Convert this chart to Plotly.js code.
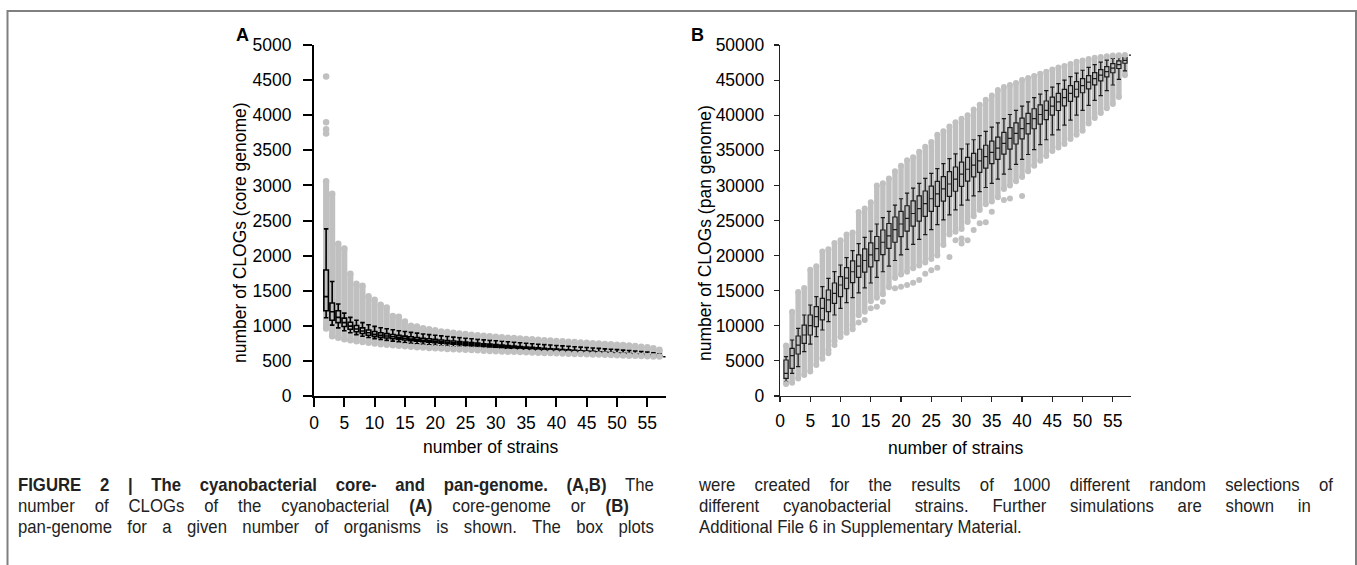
<!DOCTYPE html>
<html>
<head>
<meta charset="utf-8">
<script src="https://cdn.plot.ly/plotly-3.0.1.min.js"></script>
<style>
html,body{margin:0;padding:0;background:#fff;}
#chart{width:1357px;height:565px;}
</style>
</head>
<body>
<div id="chart"></div>
<script>
// ---------- Panel A: core genome (number of strains 2..58) ----------
const strainsA = [2,3,4,5,6,7,8,9,10,11,12,13,14,15,16,17,18,19,20,21,22,23,24,25,26,27,28,29,30,31,32,33,34,35,36,37,38,39,40,41,42,43,44,45,46,47,48,49,50,51,52,53,54,55,56,57,58];
const coreMedian = [1415,1200,1120,1045,995,955,925,900,880,865,855,843,832,822,813,804,795,787,780,772,765,758,751,744,737,730,723,717,711,705,698,692,686,680,674,668,662,657,651,646,641,636,631,626,621,616,611,606,601,597,593,589,585,580,573,567,560];
const coreQ1 = [1215,1080,1045,990,950,915,890,866,849,835,827,816,806,797,789,781,772,765,758,751,744,738,731,725,718,712,705,700,694,688,682,676,671,665,659,654,648,644,638,633,629,624,619,614,610,605,601,596,591,588,585,581,578,574,568,563,560];
const coreQ3 = [1795,1325,1215,1110,1050,1005,970,941,919,901,889,876,864,853,843,833,823,815,806,798,790,783,775,768,760,753,745,739,732,725,718,711,705,699,692,686,679,674,668,662,657,651,645,640,635,629,624,618,613,608,604,598,593,588,579,572,560];
const coreWhiskLow = [1115,1010,970,930,900,875,852,834,818,804,792,781,771,761,752,744,736,728,721,714,707,701,695,689,683,677,671,666,661,656,650,645,640,635,630,625,620,616,612,608,604,600,596,592,588,585,582,579,576,573,570,568,566,564,562,561,560];
const coreWhiskHigh = [2380,1630,1310,1180,1120,1080,1045,1015,992,973,958,944,930,918,906,895,884,874,865,856,847,839,831,823,815,807,800,793,786,779,772,765,758,751,744,738,732,726,720,714,708,702,696,690,684,678,672,666,660,654,648,641,634,626,616,600,560];
// range of the 1000 simulated values (grey dots) per strain count
const coreDotsLow = [960,850,830,810,795,780,768,757,747,738,730,722,715,708,702,696,690,685,680,675,670,666,662,658,654,650,646,642,639,635,632,629,626,623,620,617,614,611,608,605,602,600,597,595,592,590,587,585,582,578,575,572,569,566,563,561,560];
const coreDotsHigh = [3060,2880,2170,2100,1740,1600,1570,1420,1370,1300,1260,1140,1130,1060,1000,990,965,950,935,920,910,900,890,882,873,865,858,851,844,838,831,825,819,813,807,801,795,790,784,779,773,768,763,758,752,747,742,736,731,725,718,712,703,693,680,660,560];
// isolated grey dots
const coreOutX = [2,2,2,2];
const coreOutY = [3740,3800,3900,4550];

// ---------- Panel B: pan genome (number of strains 1..58) ----------
const strainsB = [1,2,3,4,5,6,7,8,9,10,11,12,13,14,15,16,17,18,19,20,21,22,23,24,25,26,27,28,29,30,31,32,33,34,35,36,37,38,39,40,41,42,43,44,45,46,47,48,49,50,51,52,53,54,55,56,57,58];
const panMedian = [3230,5740,7260,8690,10020,11300,12490,13680,14630,15810,16800,17700,18500,19300,20100,21000,21900,22800,23700,24500,25300,26000,26700,27400,28100,28800,29500,30200,30900,31600,32300,32900,33500,34100,34700,35300,36000,36700,37400,38100,38800,39500,40100,40700,41300,41900,42500,43100,43700,44200,44700,45200,45700,46200,46700,47200,47800,48570];
const panQ1 = [2520,3940,5980,7500,8690,9870,10830,12010,13200,14150,15300,16150,16900,17650,18400,19270,20150,21020,21900,22700,23500,24200,24900,25600,26300,27020,27750,28450,29170,29870,30600,31220,31850,32470,33100,33720,34450,35170,35900,36620,37350,38070,38720,39370,40020,40670,41320,41970,42620,43200,43750,44320,44900,45470,46050,46650,47400,48570];
const panQ3 = [5130,6780,8550,10100,11540,12720,13910,15100,16100,17000,18300,19250,20100,20950,21800,22720,23650,24570,25500,26300,27100,27800,28500,29200,29900,30570,31250,31950,32620,33320,34000,34570,35150,35720,36300,36870,37550,38220,38900,39570,40250,40920,41470,42020,42570,43120,43670,44220,44770,45200,45650,46070,46500,46920,47350,47750,48200,48570];
const panWhiskLow = [2040,3230,4180,6310,7400,8450,9400,10590,11540,12490,13300,14000,14700,15400,16100,16900,17700,18500,19300,20100,20900,21600,22300,23000,23700,24400,25100,25800,26500,27200,27900,28500,29100,29700,30300,30900,31600,32300,33000,33700,34400,35100,35800,36500,37200,37900,38600,39300,40000,40700,41400,42100,42800,43500,44300,45100,46300,48570];
const panWhiskHigh = [5600,7980,9640,11540,12960,14150,15570,16760,17720,18660,19700,20700,21700,22600,23500,24500,25400,26300,27200,28100,28900,29600,30300,31000,31700,32400,33100,33800,34500,35200,35900,36500,37100,37700,38300,38900,39500,40100,40700,41300,41900,42500,43000,43500,44000,44500,45000,45500,46000,46400,46800,47200,47550,47850,48100,48300,48500,48570];
const panDotsLow = [1700,1900,2500,3000,3500,4400,5300,6500,7800,8400,9000,9500,11500,12000,13500,14000,14500,15500,16800,17300,17700,18200,18600,19000,19500,20000,21500,23000,23400,23800,24800,25600,26500,27300,27700,28300,29500,30000,30600,31200,32000,32800,33500,34200,34900,35400,35900,36600,37200,37800,38800,39600,40300,41000,41600,42600,45700,48570];
const panDotsHigh = [7200,12000,14800,15400,18000,18500,20600,20900,21800,22200,23000,23300,26200,26700,27600,30000,30300,31000,32000,32800,33600,34000,34800,35500,36200,37200,37700,38400,39000,39500,40000,40800,41500,42200,42800,43600,44000,44300,44600,45000,45300,45600,45900,46200,46500,46800,47000,47300,47600,47800,48000,48200,48300,48400,48500,48550,48570,48570];
const panOutX = [8,9,12,13,14,15,16,17,19,20,21,22,23,24,25,26,28,29,30,31,30,32,33,34,35,37,38,40];
const panOutY = [6080,7260,10150,10480,10810,12500,12730,13440,15340,15570,15810,16140,16520,17420,17900,18280,19800,22200,22440,22200,21730,23650,24600,24740,26250,27920,28150,28490];

// ---------- Text ----------
const yTitleA = 'number of CLOGs (core genome)';
const yTitleB = 'number of CLOGs (pan genome)';
const xTitle = 'number of strains';
const captionLeft = [
  '<b>FIGURE 2 | The cyanobacterial core- and pan-genome. (A,B)</b> The',
  'number of CLOGs of the cyanobacterial <b>(A)</b> core-genome or <b>(B)</b>',
  'pan-genome for a given number of organisms is shown. The box plots'
];
const captionRight = [
  'were created for the results of 1000 different random selections of',
  'different cyanobacterial strains. Further simulations are shown in',
  'Additional File 6 in Supplementary Material.'
];

// ---------- helpers ----------
const W = 1357, H = 565;
const px = x => x / W;
const py = y => 1 - y / H;
const GREY = '#c0c0c0';
const FONT = 'Liberation Sans, Arial, sans-serif';

// end points of each grey column (rounded ends), except degenerate columns
function ends(xs, lo, hi) {
  const X = [], Y = [];
  xs.forEach((n, i) => { if (hi[i] > lo[i]) { X.push(n, n); Y.push(lo[i], hi[i]); } });
  return {X, Y};
}
const eA = ends(strainsA, coreDotsLow, coreDotsHigh);
const eB = ends(strainsB, panDotsLow, panDotsHigh);

const traces = [
  {type:'bar', x:strainsA, base:coreDotsLow, y:coreDotsHigh.map((h, i) => h - coreDotsLow[i]),
   width:1.0, marker:{color:GREY, line:{width:0}}, xaxis:'x', yaxis:'y', showlegend:false},
  {type:'box', x:strainsA, q1:coreQ1, median:coreMedian, q3:coreQ3,
   lowerfence:coreWhiskLow, upperfence:coreWhiskHigh, boxpoints:false,
   width:0.75, whiskerwidth:1, line:{color:'#000', width:1.6}, fillcolor:'rgba(0,0,0,0)',
   xaxis:'x', yaxis:'y', showlegend:false},
  {type:'scatter', mode:'markers', x:eA.X.concat(coreOutX), y:eA.Y.concat(coreOutY), xaxis:'x', yaxis:'y',
   marker:{color:GREY, size:6.5}, showlegend:false},

  {type:'bar', x:strainsB, base:panDotsLow, y:panDotsHigh.map((h, i) => h - panDotsLow[i]),
   width:0.9, marker:{color:GREY, line:{width:0}}, xaxis:'x2', yaxis:'y2', showlegend:false},
  {type:'box', x:strainsB, q1:panQ1, median:panMedian, q3:panQ3,
   lowerfence:panWhiskLow, upperfence:panWhiskHigh, boxpoints:false,
   width:0.7, whiskerwidth:1, line:{color:'#1a1a1a', width:1.2}, fillcolor:'rgba(0,0,0,0)',
   xaxis:'x2', yaxis:'y2', showlegend:false},
  {type:'scatter', mode:'markers', x:eB.X.concat(panOutX), y:eB.Y.concat(panOutY), xaxis:'x2', yaxis:'y2',
   marker:{color:GREY, size:6}, showlegend:false}
];

const tickFont = {family:FONT, size:17.5, color:'#000'};
const axA = {showgrid:false, zeroline:false, showline:true, linecolor:'#000', linewidth:2,
             ticks:'outside', ticklen:9, tickwidth:2, tickcolor:'#000', tickfont:tickFont, tickformat:'d'};
const axB = {showgrid:false, zeroline:false, showline:true, linecolor:'#222', linewidth:1.2,
             ticks:'outside', ticklen:5, tickwidth:1.2, tickcolor:'#222', tickfont:tickFont, tickformat:'d'};

const ann = [];
function txt(text, x, y, opts) {
  ann.push(Object.assign({text, x:px(x), y:py(y), xref:'paper', yref:'paper',
    xanchor:'center', yanchor:'middle',
    showarrow:false, font:{family:FONT, size:17.5, color:'#000'}}, opts || {}));
  return ann.length - 1;
}
txt(yTitleA, 240, 233, {textangle:-90});
txt(yTitleB, 705, 233, {textangle:-90});
txt(xTitle, 490, 447);
txt(xTitle, 955, 448);
txt('<b>A</b>', 242, 35, {font:{family:FONT, size:18, color:'#000'}});
txt('<b>B</b>', 697, 35, {font:{family:FONT, size:18, color:'#000'}});
const capFont = {family:FONT, size:18, color:'#222'};
const capY = [485, 506, 527];
const caption = [];            // [annotation index, target width or 0]
const leftTargets = [636, 611, 636];
const rightTargets = [636, 612, 0];
captionLeft.forEach((t, i) => caption.push([txt(t, 16, capY[i], {xanchor:'left', font:capFont}), leftTargets[i]]));
captionRight.forEach((t, i) => caption.push([txt(t, 697, capY[i], {xanchor:'left', font:capFont}), rightTargets[i]]));
const CONDENSE = 0.93;         // caption typeface is a slightly condensed sans

const layout = {
  width:W, height:H, margin:{l:0, r:0, t:0, b:0},
  paper_bgcolor:'#fff', plot_bgcolor:'rgba(0,0,0,0)', showlegend:false, barmode:'overlay',
  xaxis: Object.assign({}, axA, {domain:[px(314), px(665.5)], range:[0,58], tick0:0, dtick:5, anchor:'y', ticklabelstandoff:1}),
  yaxis: Object.assign({}, axA, {domain:[py(396), py(45)], range:[0,5000], dtick:500, anchor:'x', ticklabelstandoff:8}),
  xaxis2: Object.assign({}, axB, {domain:[px(780), px(1131)], range:[0,58], tick0:0, dtick:5, anchor:'y2', ticklabelstandoff:4}),
  yaxis2: Object.assign({}, axB, {domain:[py(396), py(45)], range:[0,50000], dtick:5000, anchor:'x2', ticklabelstandoff:6}),
  annotations: ann,
  shapes: [{type:'rect', xref:'paper', yref:'paper', x0:px(7.5), x1:px(1356), y0:-0.1, y1:py(11),
            line:{color:'#808080', width:2}}]
};

Plotly.newPlot('chart', traces, layout, {staticPlot:true, displayModeBar:false}).then(gd => {
  // caption: anchor each line at its left edge, condense the glyphs, justify full lines
  caption.forEach(([k, target]) => {
    const t = gd.querySelector('.annotation[data-index="' + k + '"] text.annotation-text');
    if (!t) return;
    const bb = t.getBBox();
    const x0 = bb.x;
    t.setAttribute('text-anchor', 'start');
    t.setAttribute('x', x0.toFixed(2));
    t.setAttribute('transform', 'translate(' + x0.toFixed(2) + ',0) scale(' + CONDENSE + ',1) translate(' + (-x0).toFixed(2) + ',0)');
    const spaces = (t.textContent.match(/ /g) || []).length;
    const want = target / CONDENSE;
    if (target && spaces > 0 && want > bb.width) t.style.wordSpacing = ((want - bb.width) / spaces).toFixed(2) + 'px';
  });
});
</script>
</body>
</html>
